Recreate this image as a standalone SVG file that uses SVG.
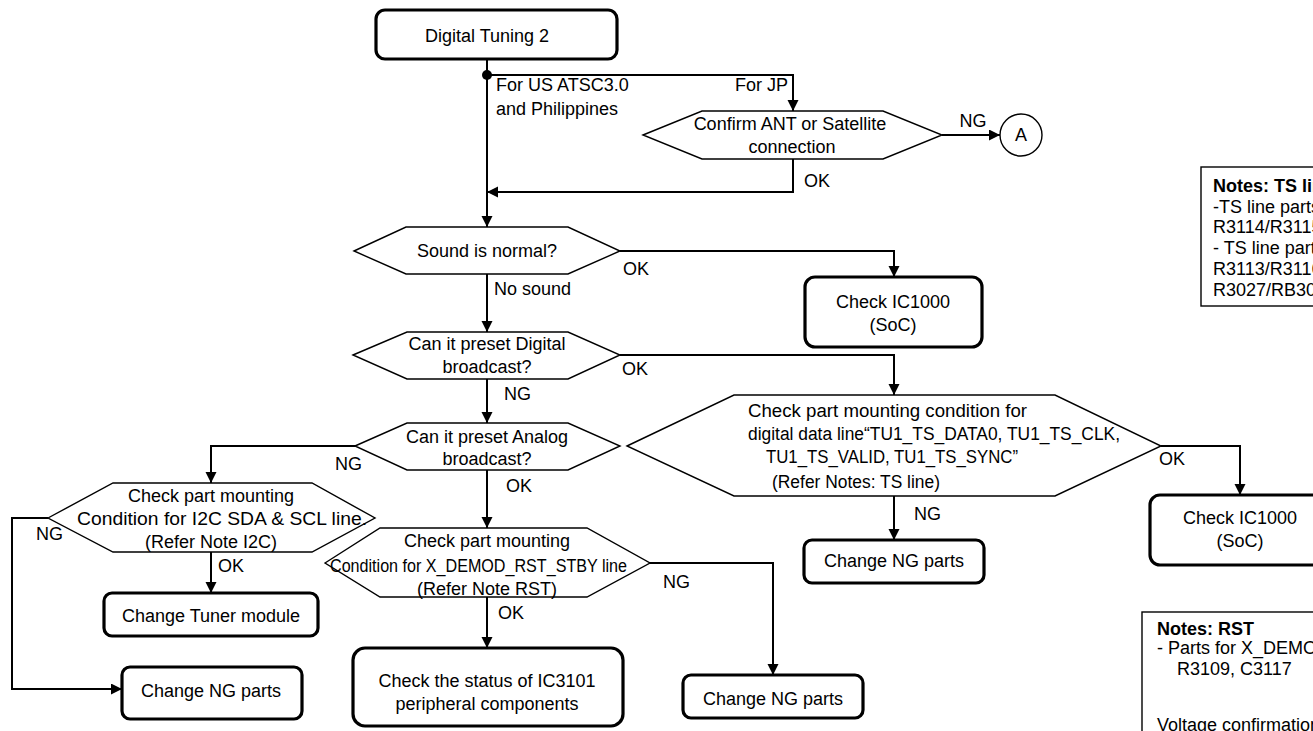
<svg xmlns="http://www.w3.org/2000/svg" width="1313" height="731" viewBox="0 0 1313 731">
<style>
text{font-family:"Liberation Sans",Arial,sans-serif;font-size:18px;fill:#000}
.m{text-anchor:middle}
.n{font-size:18px}
.b{font-weight:bold}
.box{fill:#fff;stroke:#000;stroke-width:3.2}
.hex{fill:#fff;stroke:#000;stroke-width:1.4}
.note{fill:#fff;stroke:#000;stroke-width:1.4}
.c{fill:none;stroke:#000;stroke-width:2}
</style>
<defs>
<marker id="ah" markerUnits="userSpaceOnUse" markerWidth="12" markerHeight="12" refX="11" refY="5.5" orient="auto">
<path d="M0,0 L11,5.5 L0,11 z" fill="#000"/>
</marker>
</defs>
<g id="connectors">
<path class="c" d="M487,59 V227" marker-end="url(#ah)"/>
<circle cx="487" cy="75" r="5" fill="#000"/>
<path class="c" d="M487,75 H793 V111" marker-end="url(#ah)"/>
<path class="c" d="M942,135 H1000" marker-end="url(#ah)"/>
<path class="c" d="M793,159 V192 H487" marker-end="url(#ah)"/>
<path class="c" d="M620,251 H894 V277" marker-end="url(#ah)"/>
<path class="c" d="M487,274 V332" marker-end="url(#ah)"/>
<path class="c" d="M620,355 H894 V395" marker-end="url(#ah)"/>
<path class="c" d="M487,379 V423" marker-end="url(#ah)"/>
<path class="c" d="M355,446 H211 V483" marker-end="url(#ah)"/>
<path class="c" d="M487,470 V528" marker-end="url(#ah)"/>
<path class="c" d="M48,518 H12 V689 H122" marker-end="url(#ah)"/>
<path class="c" d="M211,552 V593" marker-end="url(#ah)"/>
<path class="c" d="M650,563 H773 V675" marker-end="url(#ah)"/>
<path class="c" d="M487,597 V648" marker-end="url(#ah)"/>
<path class="c" d="M894,496 V540" marker-end="url(#ah)"/>
<path class="c" d="M1161,446 H1240 V495" marker-end="url(#ah)"/>
<text x="496" y="91">For US ATSC3.0</text>
<text x="496" y="115">and Philippines</text>
<text x="788" y="91" text-anchor="end">For JP</text>
<text x="973" y="127" class="m">NG</text>
<text x="804" y="187">OK</text>
<text x="623" y="275">OK</text>
<text x="494" y="295">No sound</text>
<text x="622" y="375">OK</text>
<text x="504" y="400">NG</text>
<text x="335" y="470">NG</text>
<text x="506" y="492">OK</text>
<text x="36" y="540">NG</text>
<text x="218" y="572">OK</text>
<text x="663" y="588">NG</text>
<text x="498" y="619">OK</text>
<text x="914" y="520">NG</text>
<text x="1159" y="465">OK</text>
</g>
<g id="start">
<rect class="box" x="376" y="10" width="241" height="49" rx="9"/>
<text x="487" y="42" class="m">Digital Tuning 2</text>
</g>
<g id="confirm">
<polygon class="hex" points="643,135 702,111 883,111 942,135 883,159 702,159"/>
<text x="790" y="130" class="m">Confirm ANT or Satellite</text>
<text x="792" y="153" class="m">connection</text>
</g>
<g id="connA">
<circle cx="1021" cy="135" r="21" fill="#fff" stroke="#000" stroke-width="1.4"/>
<text x="1021" y="141" class="m">A</text>
</g>
<g id="sound">
<polygon class="hex" points="354,251 406,227 568,227 620,251 568,274 406,274"/>
<text x="487" y="257" class="m">Sound is normal?</text>
</g>
<g id="ic1000a">
<rect class="box" x="805" y="277" width="177" height="70" rx="10"/>
<text x="893" y="308" class="m">Check IC1000</text>
<text x="893" y="331" class="m">(SoC)</text>
</g>
<g id="digital">
<polygon class="hex" points="353,355 407,332 568,332 620,355 568,379 407,379"/>
<text x="487" y="350" class="m">Can it preset Digital</text>
<text x="487" y="373" class="m">broadcast?</text>
</g>
<g id="analog">
<polygon class="hex" points="355,446 407,423 568,423 620,446 568,470 407,470"/>
<text x="487" y="443" class="m">Can it preset Analog</text>
<text x="487" y="465" class="m">broadcast?</text>
</g>
<g id="tsline">
<polygon class="hex" points="627,446 734,395 1055,395 1161,446 1055,496 734,496"/>
<text x="748" y="417" textLength="279" lengthAdjust="spacingAndGlyphs">Check part mounting condition for</text>
<text x="748" y="440" textLength="372" lengthAdjust="spacingAndGlyphs">digital data line“TU1_TS_DATA0, TU1_TS_CLK,</text>
<text x="766" y="463" textLength="252" lengthAdjust="spacingAndGlyphs">TU1_TS_VALID, TU1_TS_SYNC”</text>
<text x="772" y="488" textLength="168" lengthAdjust="spacingAndGlyphs">(Refer Notes: TS line)</text>
</g>
<g id="ic1000b">
<rect class="box" x="1150" y="495" width="180" height="70" rx="10"/>
<text x="1240" y="524" class="m">Check IC1000</text>
<text x="1240" y="547" class="m">(SoC)</text>
</g>
<g id="ngmid">
<rect class="box" x="804" y="540" width="180" height="43" rx="8"/>
<text x="894" y="567" class="m">Change NG parts</text>
</g>
<g id="i2c">
<polygon class="hex" points="48,518 113,483 312,483 375,518 312,552 113,552"/>
<text x="211" y="502" class="m">Check part mounting</text>
<text x="77" y="525" textLength="290" lengthAdjust="spacingAndGlyphs">Condition for I2C SDA &amp; SCL line.</text>
<text x="211" y="548" class="m">(Refer Note I2C)</text>
</g>
<g id="tuner">
<rect class="box" x="104" y="593" width="214" height="43" rx="8"/>
<text x="211" y="622" class="m">Change Tuner module</text>
</g>
<g id="ngleft">
<rect class="box" x="122" y="667" width="180" height="52" rx="8"/>
<text x="211" y="697" class="m">Change NG parts</text>
</g>
<g id="rst">
<polygon class="hex" points="325,563 380,528 587,528 650,563 587,597 380,597"/>
<text x="487" y="547" class="m">Check part mounting</text>
<text x="330" y="572" textLength="297" lengthAdjust="spacingAndGlyphs">Condition for X_DEMOD_RST_STBY line</text>
<text x="487" y="595" class="m">(Refer Note RST)</text>
</g>
<g id="ic3101">
<rect class="box" x="353" y="648" width="270" height="78" rx="12"/>
<text x="487" y="687" class="m">Check the status of IC3101</text>
<text x="487" y="710" class="m">peripheral components</text>
</g>
<g id="ngright">
<rect class="box" x="683" y="675" width="180" height="43" rx="8"/>
<text x="773" y="705" class="m">Change NG parts</text>
</g>
<g id="notes-ts">
<rect class="note" x="1201" y="167" width="140" height="139"/>
<text x="1213" y="192" class="n b">Notes: TS line</text>
<text x="1213" y="213" class="n">-TS line parts</text>
<text x="1213" y="233" class="n">R3114/R3115</text>
<text x="1213" y="254" class="n">- TS line parts</text>
<text x="1213" y="275" class="n">R3113/R3116</text>
<text x="1213" y="296" class="n">R3027/RB3001</text>
</g>
<g id="notes-rst">
<rect class="note" x="1142" y="612" width="200" height="150"/>
<text x="1157" y="635" class="n b">Notes: RST</text>
<text x="1157" y="654" class="n">- Parts for X_DEMOD</text>
<text x="1177" y="675" class="n">R3109, C3117</text>
<text x="1157" y="731" class="n">Voltage confirmation</text>
</g>
</svg>
